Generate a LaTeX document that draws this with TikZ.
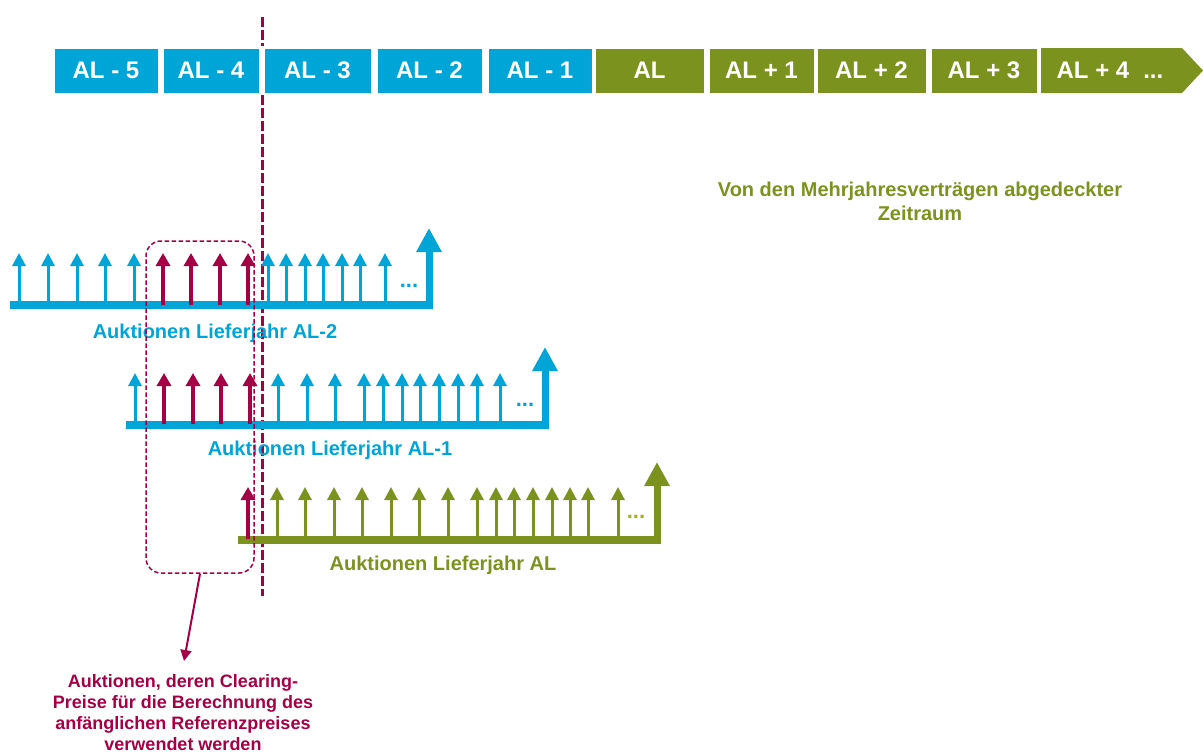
\documentclass[tikz,border=0pt]{standalone}
\usepackage{fontspec}
\setmainfont{Liberation Sans}
\usetikzlibrary{arrows.meta}
\definecolor{cblue}{RGB}{0,165,215}
\definecolor{cgreen}{RGB}{123,146,30}
\definecolor{cred}{RGB}{166,0,68}
\begin{document}
\begin{tikzpicture}[x=1pt,y=-1pt,
  yearbox/.style={minimum height=45pt,inner sep=0pt,text=white,draw=white,line width=0.6pt,
    font=\fontsize{24}{28}\selectfont\bfseries},
  bluebox/.style={yearbox,fill=cblue},
  greenbox/.style={yearbox,fill=cgreen},
  sarrow/.style={line width=3pt,-{Triangle[width=13pt,length=13pt]}},
  rarrow/.style={line width=3.6pt,cred,-{Triangle[width=14pt,length=13pt]}},
  barline/.style={line width=8pt},
  barrow/.style={line width=7pt,-{Triangle[width=24pt,length=24pt]}},
  rowlabel/.style={font=\fontsize{20}{24}\selectfont\bfseries,inner sep=0pt},
  dots/.style={font=\fontsize{22}{24}\selectfont\bfseries,inner sep=0pt}]
\useasboundingbox (0,0) rectangle (1203,753);

% vertical dashed marker
\coordinate (v1) at (262,17);
\coordinate (v2) at (262,46);
\coordinate (v3) at (262,95);
\coordinate (v4) at (262,596);
\draw[cred,line width=3pt,dash pattern=on 10pt off 3pt] (v1) -- (v2);
\draw[cred,line width=3pt,dash pattern=on 10pt off 3pt] (v3) -- (v4);

% year boxes
\node[bluebox,minimum width=104pt] (m5) at (106,70.5) {AL - 5};
\node[bluebox,minimum width=96pt] (m4) at (211,70.5) {AL - 4};
\node[bluebox,minimum width=107pt] (m3) at (317.5,70.5) {AL - 3};
\node[bluebox,minimum width=105pt] (m2) at (429.5,70.5) {AL - 2};
\node[bluebox,minimum width=104pt] (m1) at (540,70.5) {AL - 1};
\node[greenbox,minimum width=109pt] (p0) at (649.5,70.5) {AL};
\node[greenbox,minimum width=105pt] (p1) at (761.5,70.5) {AL + 1};
\node[greenbox,minimum width=109pt] (p2) at (871.5,70.5) {AL + 2};
\node[greenbox,minimum width=106pt] (p3) at (984,70.5) {AL + 3};
\fill[cgreen] (1041,48) -- (1182,48) -- (1203,70.5) -- (1182,93) -- (1041,93) -- cycle;
\node[text=white,inner sep=0pt,font=\fontsize{24}{28}\selectfont\bfseries] (p4) at (1110,70.5) {AL + 4\hspace{14pt}...};

% coverage label
\node[text=cgreen,align=center,inner sep=0pt,font=\fontsize{20}{24}\selectfont\bfseries] (cov) at (920,201)
  {Von den Mehrjahresverträgen abgedeckter\\Zeitraum};

% row 1 : AL-2
\draw[barline,cblue] (10,305) -- (433,305);
\foreach \x in {19,48,77,105,134,268,286,305,323,342,360,385}
  \draw[sarrow,cblue] (\x,302) -- (\x,253);
\foreach \x in {163,191,220,248}
  \draw[rarrow] (\x,305) -- (\x,253);
\draw[barrow,cblue] (429,309) -- (429,228);
\node[dots,text=cblue] (d1) at (409,286) {...};
\node[rowlabel,text=cblue] (r1) at (215,333) {Auktionen Lieferjahr AL-2};

% row 2 : AL-1
\draw[barline,cblue] (126,424.5) -- (549,424.5);
\foreach \x in {135,278,307,335,364,383,402,420,439,458,477,500}
  \draw[sarrow,cblue] (\x,421) -- (\x,373);
\foreach \x in {164,193,221,250}
  \draw[rarrow] (\x,424) -- (\x,373);
\draw[barrow,cblue] (545,428.5) -- (545,347);
\node[dots,text=cblue] (d2) at (525,405) {...};
\node[rowlabel,text=cblue] (r2) at (330,450) {Auktionen Lieferjahr AL-1};

% row 3 : AL
\draw[barline,cgreen] (238,539.5) -- (661,539.5);
\foreach \x in {277,305,334,362,391,419,448,477,496,514,533,552,570,588,618}
  \draw[sarrow,cgreen] (\x,536) -- (\x,487);
\draw[rarrow] (248,539) -- (248,487);
\draw[barrow,cgreen] (657,543.5) -- (657,462);
\node[dots,text=cgreen!70!yellow] (d3) at (636,517) {...};
\node[rowlabel,text=cgreen] (r3) at (443,565) {Auktionen Lieferjahr AL};

% selection frame
\node[draw=cred,line width=1.5pt,dash pattern=on 4.5pt off 2.5pt,rounded corners=15pt,
  minimum width=108pt,minimum height=332pt,inner sep=0pt] (sel) at (200,407) {};

% note
\node[text=cred,align=center,anchor=north,inner sep=0pt,font=\fontsize{18}{21}\selectfont\bfseries] (note) at (183,674)
  {Auktionen, deren Clearing-\\Preise für die Berechnung des\\anfänglichen Referenzpreises\\verwendet werden};
\coordinate (tip) at (184,661);
\draw[cred,line width=2pt,-{Triangle[width=11pt,length=11pt]}] (sel.south) -- (tip);
\end{tikzpicture}
\end{document}
